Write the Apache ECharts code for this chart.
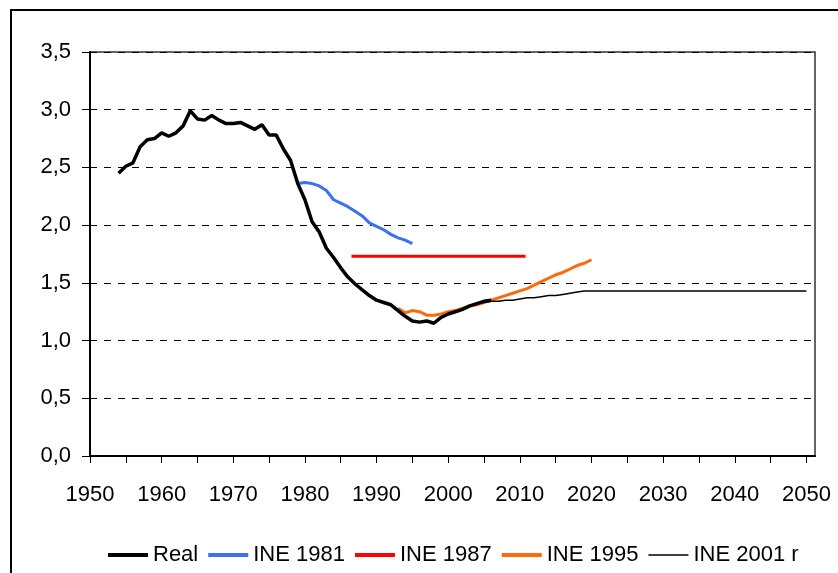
<!DOCTYPE html>
<html>
<head>
<meta charset="utf-8">
<script src="https://cdn.jsdelivr.net/npm/echarts@6/dist/echarts.min.js"></script>
<style>
    html, body { margin: 0; padding: 0; background: #fff; }
    #chart { width: 838px; height: 573px; }
</style>
</head>
<body>
<div id="chart"></div>
<script>
    // datos
    const realStart = 1954
    const realValues = [2.45, 2.51, 2.54, 2.68, 2.74, 2.75, 2.80, 2.77, 2.80, 2.86,
        2.99, 2.92, 2.91, 2.95, 2.91, 2.88, 2.88, 2.89, 2.86, 2.83,
        2.87, 2.78, 2.78, 2.66, 2.56, 2.36, 2.22, 2.03, 1.94, 1.80,
        1.72, 1.63, 1.55, 1.49, 1.44, 1.39, 1.35, 1.33, 1.31, 1.26,
        1.21, 1.17, 1.16, 1.17, 1.15, 1.20, 1.23, 1.25, 1.27, 1.30,
        1.32, 1.34, 1.35]

    const ine1981Start = 1979
    const ine1981Values = [2.36, 2.37, 2.36, 2.34, 2.30, 2.22, 2.19, 2.16, 2.12, 2.08,
        2.02, 1.99, 1.96, 1.92, 1.89, 1.87, 1.84]

    const ine1987Years = [1986.5, 2010.8]
    const ine1987Values = [1.73, 1.73]

    const ine1995Start = 1993
    const ine1995Values = [1.28, 1.24, 1.26, 1.25, 1.22, 1.22, 1.23, 1.25, 1.26, 1.28,
        1.30, 1.31, 1.33, 1.35, 1.37, 1.39, 1.41, 1.43, 1.45, 1.48,
        1.51, 1.54, 1.57, 1.59, 1.62, 1.65, 1.67, 1.70]

    const ine2001Years = [2002, 2003, 2004, 2005, 2006, 2007, 2008, 2009, 2010, 2011,
        2012, 2013, 2014, 2015, 2016, 2017, 2018, 2019, 2050]
    const ine2001Values = [1.27, 1.30, 1.32, 1.33, 1.34, 1.34, 1.35, 1.35, 1.36, 1.37,
        1.37, 1.38, 1.39, 1.39, 1.40, 1.41, 1.42, 1.43, 1.43]

    const xTickYears = [1950, 1955, 1960, 1965, 1970, 1975, 1980, 1985, 1990, 1995, 2000,
        2005, 2010, 2015, 2020, 2025, 2030, 2035, 2040, 2045, 2050]
    const xLabelYears = [1950, 1960, 1970, 1980, 1990, 2000, 2010, 2020, 2030, 2040, 2050]

    function fromStart(start, values){
        return values.map((v, i) => [start + i, v])
    }
    function pairs(years, values){
        return years.map((y, i) => [y, values[i]])
    }

    const font = 'Liberation Sans, Arial, sans-serif'
    // icono fino: la caja 40x4 se fija con puntos vacios en las esquinas
    const thinIcon = 'path://M0,0L0,0M0,1.3L40,1.3L40,2.7L0,2.7ZM40,4L40,4'

    let chartInstance = echarts.init(document.getElementById('chart'), null, { renderer: 'canvas' })

    const option = {
        animation: false,
        textStyle: { fontFamily: font },
        graphic: [
            {
                type: 'rect',
                shape: { x: 11, y: 10, width: 840, height: 620 },
                style: { fill: 'none', stroke: '#000', lineWidth: 2 },
                silent: true
            }
        ],
        grid: {
            left: 90,
            right: 23,
            top: 52,
            bottom: 117,
            containLabel: false,
            show: true,
            borderColor: '#333',
            borderWidth: 1.5
        },
        legend: {
            top: 539,
            left: 103,
            itemWidth: 40,
            itemHeight: 4,
            itemGap: 10,
            symbolKeepAspect: false,
            textStyle: { fontSize: 22, color: '#000', fontFamily: font },
            data: [
                { name: 'Real', icon: 'rect' },
                { name: 'INE 1981', icon: 'rect' },
                { name: 'INE 1987', icon: 'rect' },
                { name: 'INE 1995', icon: 'rect' },
                { name: 'INE 2001 r', icon: thinIcon }
            ]
        },
        xAxis: {
            type: 'value',
            min: 1950,
            max: 2051.2,
            axisLine: { onZero: false, lineStyle: { color: '#000', width: 2 } },
            axisTick: {
                show: true,
                length: 7,
                customValues: xTickYears,
                lineStyle: { color: '#000', width: 1 }
            },
            axisLabel: {
                customValues: xLabelYears,
                margin: 28,
                fontSize: 22,
                color: '#000',
                fontFamily: font,
                formatter: v => String(v)
            },
            splitLine: { show: false }
        },
        yAxis: {
            type: 'value',
            min: 0,
            max: 3.5,
            interval: 0.5,
            axisLine: { show: true, lineStyle: { color: '#000', width: 2 } },
            axisTick: { show: true, length: 8, lineStyle: { color: '#000', width: 1 } },
            axisLabel: {
                margin: 19,
                fontSize: 22,
                color: '#000',
                fontFamily: font,
                formatter: v => v.toFixed(1).replace('.', ',')
            },
            splitLine: { show: true, lineStyle: { color: '#000', type: [7, 7], width: 1 } }
        },
        series: [
            {
                name: 'Real',
                type: 'line',
                symbol: 'none',
                z: 5,
                lineStyle: { color: '#000', width: 3.5 },
                itemStyle: { color: '#000' },
                data: fromStart(realStart, realValues)
            },
            {
                name: 'INE 1981',
                type: 'line',
                symbol: 'none',
                lineStyle: { color: '#3d6ff2', width: 3 },
                itemStyle: { color: '#3d6ff2' },
                data: fromStart(ine1981Start, ine1981Values)
            },
            {
                name: 'INE 1987',
                type: 'line',
                symbol: 'none',
                lineStyle: { color: '#ff0000', width: 3 },
                itemStyle: { color: '#ff0000' },
                data: pairs(ine1987Years, ine1987Values)
            },
            {
                name: 'INE 1995',
                type: 'line',
                symbol: 'none',
                z: 4,
                lineStyle: { color: '#ff6a0d', width: 3 },
                itemStyle: { color: '#ff6a0d' },
                data: fromStart(ine1995Start, ine1995Values)
            },
            {
                name: 'INE 2001 r',
                type: 'line',
                symbol: 'none',
                z: 6,
                lineStyle: { color: '#000', width: 1.5 },
                itemStyle: { color: '#000' },
                data: pairs(ine2001Years, ine2001Values)
            }
        ]
    }
    chartInstance.setOption(option)
</script>
</body>
</html>
